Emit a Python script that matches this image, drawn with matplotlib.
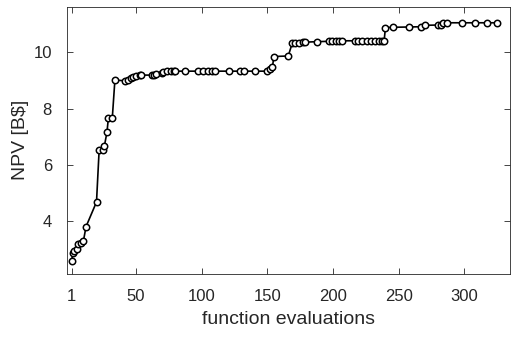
import matplotlib
matplotlib.use("Agg")
import matplotlib.pyplot as plt

# function evaluation index and best NPV so far
evals = [1, 2, 3, 5, 6, 8, 10, 12, 20, 22, 25, 26, 28, 29, 32, 34,
         42, 44, 46, 48, 50, 53, 54, 62, 64, 65, 70, 71, 74, 77, 79, 80,
         87, 97, 101, 105, 108, 110, 121, 129, 132, 141,
         150, 152, 154, 155, 166, 169, 171, 174, 177, 179, 188, 197, 199, 202, 205, 207,
         217, 219, 222, 226, 229, 232, 235, 237, 239, 240, 246, 258, 267, 270,
         280, 282, 284, 287, 298, 308, 317, 325]
npv = [2.58, 2.85, 2.94, 3.02, 3.20, 3.22, 3.28, 3.80, 4.68, 6.52, 6.52, 6.67, 7.17, 7.65, 7.65, 9.01,
       8.99, 9.03, 9.07, 9.12, 9.16, 9.19, 9.19, 9.19, 9.21, 9.23, 9.25, 9.30, 9.32, 9.33, 9.33, 9.33,
       9.33, 9.33, 9.33, 9.33, 9.33, 9.33, 9.33, 9.33, 9.33, 9.33,
       9.33, 9.41, 9.48, 9.85, 9.87, 10.32, 10.33, 10.34, 10.35, 10.36, 10.38, 10.39, 10.40, 10.40, 10.41, 10.41,
       10.41, 10.41, 10.41, 10.41, 10.41, 10.41, 10.41, 10.41, 10.41, 10.88, 10.89, 10.90, 10.91, 10.96,
       10.97, 10.98, 11.04, 11.05, 11.05, 11.05, 11.05, 11.05]

plt.rcParams['font.family'] = ['Liberation Sans', 'DejaVu Sans']
grey = '#262626'

fig = plt.figure(figsize=(5.12, 3.37), dpi=100)
ax = fig.add_axes([0.130, 0.187, 0.866, 0.793])
ax.plot(evals, npv, '-o', color='black', lw=1.2, ms=4.6, mfc='white', mec='black', mew=1.1)

ax.set_xlim(-2.8, 334.8)
ax.set_ylim(2.12, 11.62)
ax.set_xticks([1, 50, 100, 150, 200, 250, 300])
ax.set_yticks([4, 6, 8, 10])
ax.tick_params(direction='in', top=True, right=True, length=4, width=0.6,
               labelsize=12, colors=grey, labelcolor=grey, pad=10.5)
for s in ax.spines.values():
    s.set_color(grey)
    s.set_linewidth(0.6)
ax.set_xlabel('function evaluations', fontsize=14, color=grey, labelpad=5)
ax.set_ylabel('NPV [B$]', fontsize=14, color=grey, labelpad=3)

fig.savefig('out.png', dpi=100)
